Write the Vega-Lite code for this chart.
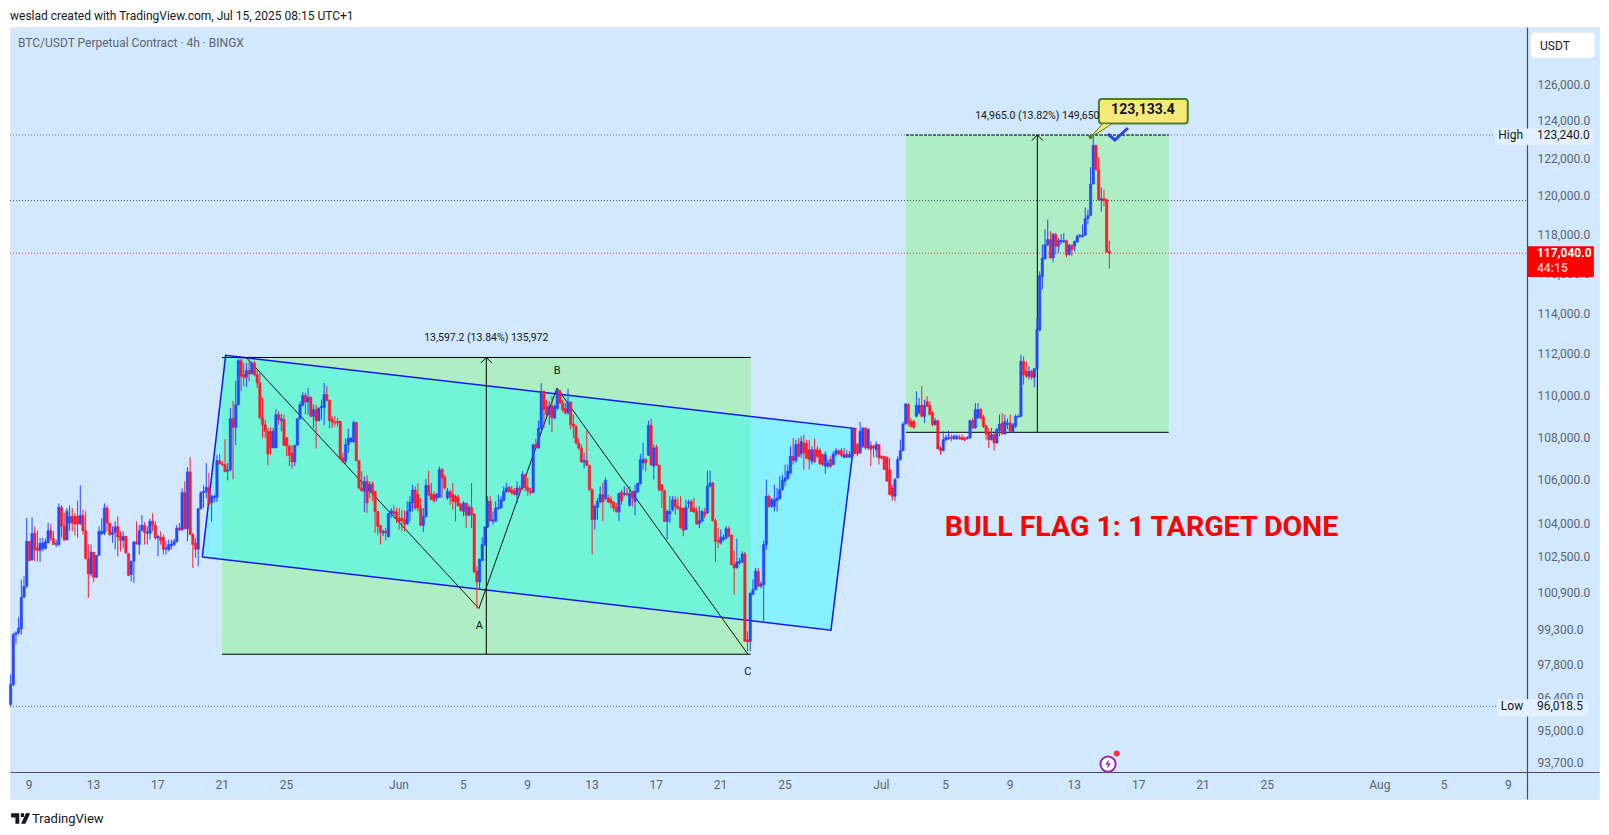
{"$schema":"https://vega.github.io/schema/vega-lite/v6.json","width":1589,"height":772,"autosize":"none","padding":{"left":10,"top":27,"right":10,"bottom":36},"background":"#ffffff","view":{"fill":"#d1e8ff","stroke":"#e4e8ee"},"config":{"text":{"font":"Roboto"},"axis":{"labelFont":"Roboto"}},
"datasets":{"c":[
{"t":"2025-05-07T21:00Z","o":96100,"h":97365,"l":96018,"c":96940},
{"t":"2025-05-08T01:00Z","o":96940,"h":99150,"l":96870,"c":99075},{"t":"2025-05-08T05:00Z","o":99075,"h":99220,"l":98670,"c":99150},{"t":"2025-05-08T09:00Z","o":99150,"h":99825,"l":99075,"c":99360},{"t":"2025-05-08T13:00Z","o":99330,"h":101485,"l":99075,"c":100700},{"t":"2025-05-08T17:00Z","o":100700,"h":101630,"l":100675,"c":101190},{"t":"2025-05-08T21:00Z","o":101190,"h":104250,"l":101115,"c":103200},
{"t":"2025-05-09T01:00Z","o":103200,"h":103200,"l":102300,"c":102330},{"t":"2025-05-09T05:00Z","o":102360,"h":104280,"l":102330,"c":103560},{"t":"2025-05-09T09:00Z","o":103560,"h":103875,"l":102300,"c":102825},{"t":"2025-05-09T13:00Z","o":102900,"h":103680,"l":102300,"c":102780},{"t":"2025-05-09T17:00Z","o":102780,"h":103350,"l":102270,"c":103110},{"t":"2025-05-09T21:00Z","o":102870,"h":103350,"l":102750,"c":103110},
{"t":"2025-05-10T01:00Z","o":102870,"h":103320,"l":102825,"c":103170},{"t":"2025-05-10T05:00Z","o":103125,"h":104025,"l":103125,"c":103680},{"t":"2025-05-10T09:00Z","o":103680,"h":103990,"l":103200,"c":103320},{"t":"2025-05-10T13:00Z","o":103320,"h":103650,"l":103050,"c":103050},{"t":"2025-05-10T17:00Z","o":103050,"h":103275,"l":102930,"c":103110},{"t":"2025-05-10T21:00Z","o":103050,"h":104925,"l":102975,"c":104740},
{"t":"2025-05-11T01:00Z","o":104740,"h":104835,"l":103380,"c":103890},{"t":"2025-05-11T05:00Z","o":103890,"h":104480,"l":103200,"c":103260},{"t":"2025-05-11T09:00Z","o":103260,"h":104710,"l":103260,"c":104555},{"t":"2025-05-11T13:00Z","o":104025,"h":104830,"l":103680,"c":104330},{"t":"2025-05-11T17:00Z","o":104330,"h":104710,"l":103650,"c":104025},{"t":"2025-05-11T21:00Z","o":104330,"h":104480,"l":103470,"c":103980},
{"t":"2025-05-12T01:00Z","o":104330,"h":105060,"l":103350,"c":103980},{"t":"2025-05-12T05:00Z","o":103980,"h":105755,"l":103950,"c":104375},{"t":"2025-05-12T09:00Z","o":104375,"h":104630,"l":103500,"c":103680},{"t":"2025-05-12T13:00Z","o":103680,"h":104555,"l":102375,"c":102420},{"t":"2025-05-12T17:00Z","o":102420,"h":103050,"l":100675,"c":101735},{"t":"2025-05-12T21:00Z","o":101735,"h":103050,"l":101635,"c":102705},
{"t":"2025-05-13T01:00Z","o":102705,"h":102705,"l":101380,"c":101590},{"t":"2025-05-13T05:00Z","o":101590,"h":102570,"l":101560,"c":102570},{"t":"2025-05-13T09:00Z","o":102570,"h":103875,"l":102525,"c":103650},{"t":"2025-05-13T13:00Z","o":103530,"h":104250,"l":103500,"c":103650},{"t":"2025-05-13T17:00Z","o":103560,"h":104925,"l":103470,"c":104710},{"t":"2025-05-13T21:00Z","o":104710,"h":104830,"l":103650,"c":104025},
{"t":"2025-05-14T01:00Z","o":104025,"h":104025,"l":103425,"c":103500},{"t":"2025-05-14T05:00Z","o":103500,"h":103875,"l":103125,"c":103605},{"t":"2025-05-14T09:00Z","o":103605,"h":104100,"l":102825,"c":103860},{"t":"2025-05-14T13:00Z","o":103860,"h":104330,"l":102525,"c":103380},{"t":"2025-05-14T17:00Z","o":103425,"h":103650,"l":102750,"c":103230},{"t":"2025-05-14T21:00Z","o":103230,"h":103650,"l":102900,"c":103425},
{"t":"2025-05-15T01:00Z","o":103425,"h":103425,"l":102630,"c":102675},{"t":"2025-05-15T05:00Z","o":102645,"h":102675,"l":101635,"c":101675},{"t":"2025-05-15T09:00Z","o":101705,"h":102330,"l":101410,"c":102300},{"t":"2025-05-15T13:00Z","o":102300,"h":103200,"l":101340,"c":103170},{"t":"2025-05-15T17:00Z","o":103170,"h":104100,"l":103050,"c":103080},{"t":"2025-05-15T21:00Z","o":103050,"h":103950,"l":102600,"c":103680},
{"t":"2025-05-16T01:00Z","o":103680,"h":104375,"l":103650,"c":103920},{"t":"2025-05-16T05:00Z","o":103920,"h":104070,"l":103050,"c":103590},{"t":"2025-05-16T09:00Z","o":103560,"h":103875,"l":103050,"c":103620},{"t":"2025-05-16T13:00Z","o":103560,"h":104220,"l":103275,"c":104100},{"t":"2025-05-16T17:00Z","o":104100,"h":104465,"l":103650,"c":103920},{"t":"2025-05-16T21:00Z","o":103920,"h":104100,"l":103275,"c":103350},
{"t":"2025-05-17T01:00Z","o":103350,"h":103500,"l":102525,"c":103425},{"t":"2025-05-17T05:00Z","o":103380,"h":103650,"l":103050,"c":103230},{"t":"2025-05-17T09:00Z","o":103380,"h":103500,"l":102600,"c":102840},{"t":"2025-05-17T13:00Z","o":102840,"h":103200,"l":102600,"c":102900},{"t":"2025-05-17T17:00Z","o":102825,"h":103275,"l":102750,"c":103050},{"t":"2025-05-17T21:00Z","o":102990,"h":103275,"l":102825,"c":103080},
{"t":"2025-05-18T01:00Z","o":103050,"h":103320,"l":102975,"c":103200},{"t":"2025-05-18T05:00Z","o":103170,"h":103920,"l":103140,"c":103800},{"t":"2025-05-18T09:00Z","o":103800,"h":104025,"l":103650,"c":103710},{"t":"2025-05-18T13:00Z","o":103710,"h":105600,"l":103680,"c":105415},{"t":"2025-05-18T17:00Z","o":105415,"h":105940,"l":103725,"c":103770},{"t":"2025-05-18T21:00Z","o":103770,"h":106590,"l":103200,"c":106375},
{"t":"2025-05-19T01:00Z","o":106375,"h":107055,"l":103470,"c":103500},{"t":"2025-05-19T05:00Z","o":103500,"h":103575,"l":102005,"c":103050},{"t":"2025-05-19T09:00Z","o":103110,"h":103350,"l":102450,"c":102840},{"t":"2025-05-19T13:00Z","o":102840,"h":104710,"l":102080,"c":104680},{"t":"2025-05-19T17:00Z","o":104680,"h":105475,"l":104630,"c":105415},{"t":"2025-05-19T21:00Z","o":105415,"h":105755,"l":104710,"c":105475},
{"t":"2025-05-20T01:00Z","o":105445,"h":106790,"l":105170,"c":105660},{"t":"2025-05-20T05:00Z","o":105660,"h":106330,"l":104860,"c":104860},{"t":"2025-05-20T09:00Z","o":104940,"h":105325,"l":104100,"c":105250},{"t":"2025-05-20T13:00Z","o":105170,"h":105325,"l":104970,"c":105250},{"t":"2025-05-20T17:00Z","o":105200,"h":107150,"l":104985,"c":106900},{"t":"2025-05-20T21:00Z","o":106900,"h":107210,"l":106715,"c":106745},
{"t":"2025-05-21T01:00Z","o":106745,"h":106870,"l":106640,"c":106715},{"t":"2025-05-21T05:00Z","o":106715,"h":107910,"l":106375,"c":106375},{"t":"2025-05-21T09:00Z","o":106405,"h":106790,"l":105985,"c":106470},{"t":"2025-05-21T13:00Z","o":106470,"h":109390,"l":106405,"c":108880},{"t":"2025-05-21T17:00Z","o":108880,"h":109735,"l":106035,"c":108465},{"t":"2025-05-21T21:00Z","o":108465,"h":110700,"l":107620,"c":109545},
{"t":"2025-05-22T01:00Z","o":109545,"h":111770,"l":109515,"c":111670},{"t":"2025-05-22T05:00Z","o":111670,"h":111800,"l":110190,"c":110910},{"t":"2025-05-22T09:00Z","o":110990,"h":111560,"l":110430,"c":110860},{"t":"2025-05-22T13:00Z","o":110860,"h":111560,"l":110380,"c":111190},{"t":"2025-05-22T17:00Z","o":111190,"h":111885,"l":110670,"c":111020},{"t":"2025-05-22T21:00Z","o":111020,"h":111640,"l":111070,"c":111560},
{"t":"2025-05-23T01:00Z","o":111560,"h":111670,"l":110910,"c":110990},{"t":"2025-05-23T05:00Z","o":110990,"h":111230,"l":110350,"c":110590},{"t":"2025-05-23T09:00Z","o":110590,"h":111070,"l":108830,"c":108940},{"t":"2025-05-23T13:00Z","o":108940,"h":109900,"l":107960,"c":108590},{"t":"2025-05-23T17:00Z","o":108590,"h":108830,"l":107960,"c":108280},{"t":"2025-05-23T21:00Z","o":108280,"h":108435,"l":106680,"c":107210},
{"t":"2025-05-24T01:00Z","o":108280,"h":108470,"l":107150,"c":107490},{"t":"2025-05-24T05:00Z","o":107490,"h":108435,"l":107490,"c":108280},{"t":"2025-05-24T09:00Z","o":107490,"h":109340,"l":107490,"c":109070},{"t":"2025-05-24T13:00Z","o":109070,"h":109230,"l":108590,"c":108830},{"t":"2025-05-24T17:00Z","o":108780,"h":109100,"l":108280,"c":108880},{"t":"2025-05-24T21:00Z","o":108830,"h":109070,"l":107600,"c":107620},
{"t":"2025-05-25T01:00Z","o":107990,"h":107990,"l":107100,"c":107570},{"t":"2025-05-25T05:00Z","o":107570,"h":107650,"l":106640,"c":107150},{"t":"2025-05-25T09:00Z","o":107260,"h":107620,"l":106530,"c":106840},{"t":"2025-05-25T13:00Z","o":106840,"h":107620,"l":106640,"c":107620},{"t":"2025-05-25T17:00Z","o":107620,"h":108880,"l":107600,"c":108880},{"t":"2025-05-25T21:00Z","o":108880,"h":109705,"l":108830,"c":109545},
{"t":"2025-05-26T01:00Z","o":109515,"h":110140,"l":109470,"c":109980},{"t":"2025-05-26T05:00Z","o":109980,"h":110110,"l":109070,"c":109670},{"t":"2025-05-26T09:00Z","o":109670,"h":110350,"l":109070,"c":109900},{"t":"2025-05-26T13:00Z","o":109900,"h":109950,"l":108945,"c":108990},{"t":"2025-05-26T17:00Z","o":108990,"h":109545,"l":108435,"c":109310},{"t":"2025-05-26T21:00Z","o":109310,"h":109545,"l":107460,"c":108780},
{"t":"2025-05-27T01:00Z","o":108780,"h":109390,"l":108750,"c":109390},{"t":"2025-05-27T05:00Z","o":109390,"h":109785,"l":108830,"c":109470},{"t":"2025-05-27T09:00Z","o":109420,"h":110590,"l":108560,"c":110030},{"t":"2025-05-27T13:00Z","o":110030,"h":110430,"l":109705,"c":109740},{"t":"2025-05-27T17:00Z","o":109740,"h":109790,"l":108435,"c":108780},{"t":"2025-05-27T21:00Z","o":108830,"h":108990,"l":108435,"c":108720},
{"t":"2025-05-28T01:00Z","o":108720,"h":108990,"l":108510,"c":108670},{"t":"2025-05-28T05:00Z","o":108750,"h":108910,"l":108510,"c":108680},{"t":"2025-05-28T09:00Z","o":108750,"h":108750,"l":106950,"c":106995},{"t":"2025-05-28T13:00Z","o":107025,"h":107260,"l":106790,"c":106840},{"t":"2025-05-28T17:00Z","o":106870,"h":107930,"l":106715,"c":107650},{"t":"2025-05-28T21:00Z","o":107650,"h":108405,"l":107260,"c":107930},
{"t":"2025-05-29T01:00Z","o":107775,"h":107990,"l":107775,"c":107960},{"t":"2025-05-29T05:00Z","o":107775,"h":108780,"l":107725,"c":108700},{"t":"2025-05-29T09:00Z","o":108700,"h":108700,"l":106870,"c":106900},{"t":"2025-05-29T13:00Z","o":106900,"h":106900,"l":105550,"c":105630},{"t":"2025-05-29T17:00Z","o":105630,"h":106405,"l":105475,"c":105505},{"t":"2025-05-29T21:00Z","o":105475,"h":106170,"l":104530,"c":105940},
{"t":"2025-05-30T01:00Z","o":105940,"h":106220,"l":104480,"c":104940},{"t":"2025-05-30T05:00Z","o":105475,"h":105940,"l":105170,"c":105785},{"t":"2025-05-30T09:00Z","o":105815,"h":105940,"l":105015,"c":105445},{"t":"2025-05-30T13:00Z","o":105475,"h":105475,"l":103575,"c":104555},{"t":"2025-05-30T17:00Z","o":104555,"h":104555,"l":103470,"c":103875},{"t":"2025-05-30T21:00Z","o":103920,"h":103920,"l":103050,"c":103605},
{"t":"2025-05-31T01:00Z","o":103575,"h":103725,"l":103425,"c":103650},{"t":"2025-05-31T05:00Z","o":103650,"h":103800,"l":103230,"c":103575},{"t":"2025-05-31T09:00Z","o":103395,"h":104480,"l":103380,"c":104450},{"t":"2025-05-31T13:00Z","o":104435,"h":104710,"l":104250,"c":104585},{"t":"2025-05-31T17:00Z","o":104555,"h":104830,"l":104250,"c":104465},{"t":"2025-05-31T21:00Z","o":104525,"h":104710,"l":104025,"c":104250},
{"t":"2025-06-01T01:00Z","o":104250,"h":104710,"l":103725,"c":104100},{"t":"2025-06-01T05:00Z","o":104250,"h":104630,"l":103650,"c":104130},{"t":"2025-06-01T09:00Z","o":104175,"h":104585,"l":103650,"c":103980},{"t":"2025-06-01T13:00Z","o":103980,"h":105015,"l":103950,"c":104555},{"t":"2025-06-01T17:00Z","o":104555,"h":105250,"l":104100,"c":104985},{"t":"2025-06-01T21:00Z","o":104955,"h":105785,"l":104555,"c":105535},
{"t":"2025-06-02T01:00Z","o":105535,"h":105710,"l":104630,"c":104710},{"t":"2025-06-02T05:00Z","o":105325,"h":105845,"l":104555,"c":104710},{"t":"2025-06-02T09:00Z","o":104710,"h":105170,"l":103875,"c":103920},{"t":"2025-06-02T13:00Z","o":103920,"h":104710,"l":103620,"c":104330},{"t":"2025-06-02T17:00Z","o":104315,"h":106065,"l":104280,"c":105755},{"t":"2025-06-02T21:00Z","o":105755,"h":106435,"l":105250,"c":105325},
{"t":"2025-06-03T01:00Z","o":105355,"h":105860,"l":105090,"c":105090},{"t":"2025-06-03T05:00Z","o":105325,"h":105475,"l":104940,"c":105045},{"t":"2025-06-03T09:00Z","o":105170,"h":105400,"l":105015,"c":105325},{"t":"2025-06-03T13:00Z","o":105200,"h":106620,"l":105170,"c":106480},{"t":"2025-06-03T17:00Z","o":106480,"h":106560,"l":105170,"c":106095},{"t":"2025-06-03T21:00Z","o":106125,"h":106250,"l":105550,"c":105630},
{"t":"2025-06-04T01:00Z","o":105170,"h":105630,"l":105090,"c":105475},{"t":"2025-06-04T05:00Z","o":105445,"h":105550,"l":104860,"c":105215},{"t":"2025-06-04T09:00Z","o":105325,"h":105860,"l":104630,"c":105015},{"t":"2025-06-04T13:00Z","o":105250,"h":105325,"l":104100,"c":104985},{"t":"2025-06-04T17:00Z","o":105215,"h":105325,"l":104785,"c":104800},{"t":"2025-06-04T21:00Z","o":104860,"h":104940,"l":104555,"c":104585},
{"t":"2025-06-05T01:00Z","o":104555,"h":105015,"l":104330,"c":104940},{"t":"2025-06-05T05:00Z","o":104940,"h":104940,"l":103800,"c":104375},{"t":"2025-06-05T09:00Z","o":104375,"h":104860,"l":104330,"c":104755},{"t":"2025-06-05T13:00Z","o":104740,"h":105860,"l":103800,"c":104405},{"t":"2025-06-05T17:00Z","o":104435,"h":104480,"l":101780,"c":101825},{"t":"2025-06-05T21:00Z","o":101855,"h":102075,"l":100205,"c":101380},
{"t":"2025-06-06T01:00Z","o":101380,"h":102420,"l":101040,"c":102390},{"t":"2025-06-06T05:00Z","o":102330,"h":103380,"l":102300,"c":103050},{"t":"2025-06-06T09:00Z","o":103050,"h":103875,"l":102975,"c":103845},{"t":"2025-06-06T13:00Z","o":103845,"h":105250,"l":103800,"c":105015},{"t":"2025-06-06T17:00Z","o":105015,"h":105250,"l":104100,"c":104130},{"t":"2025-06-06T21:00Z","o":104100,"h":104555,"l":103950,"c":104175},
{"t":"2025-06-07T01:00Z","o":104100,"h":105015,"l":104100,"c":104710},{"t":"2025-06-07T05:00Z","o":104680,"h":105325,"l":104630,"c":104740},{"t":"2025-06-07T09:00Z","o":104710,"h":105250,"l":104680,"c":105090},{"t":"2025-06-07T13:00Z","o":105045,"h":105710,"l":105015,"c":105475},{"t":"2025-06-07T17:00Z","o":105445,"h":105860,"l":105400,"c":105630},{"t":"2025-06-07T21:00Z","o":105660,"h":105710,"l":105400,"c":105475},
{"t":"2025-06-08T01:00Z","o":105550,"h":105710,"l":105325,"c":105400},{"t":"2025-06-08T05:00Z","o":105475,"h":105630,"l":105295,"c":105325},{"t":"2025-06-08T09:00Z","o":105325,"h":105940,"l":104940,"c":105630},{"t":"2025-06-08T13:00Z","o":105600,"h":105755,"l":105325,"c":105505},{"t":"2025-06-08T17:00Z","o":105630,"h":106405,"l":105550,"c":106250},{"t":"2025-06-08T21:00Z","o":106250,"h":106250,"l":105475,"c":105630},
{"t":"2025-06-09T01:00Z","o":105660,"h":106095,"l":105250,"c":105505},{"t":"2025-06-09T05:00Z","o":105505,"h":105630,"l":105325,"c":105415},{"t":"2025-06-09T09:00Z","o":105415,"h":107680,"l":105400,"c":107650},{"t":"2025-06-09T13:00Z","o":107650,"h":107930,"l":107460,"c":107490},{"t":"2025-06-09T17:00Z","o":107490,"h":108780,"l":107460,"c":108435},{"t":"2025-06-09T21:00Z","o":108405,"h":110590,"l":108360,"c":110190},
{"t":"2025-06-10T01:00Z","o":110190,"h":110220,"l":108435,"c":109310},{"t":"2025-06-10T05:00Z","o":109470,"h":109785,"l":108990,"c":109070},{"t":"2025-06-10T09:00Z","o":109070,"h":109705,"l":108590,"c":109470},{"t":"2025-06-10T13:00Z","o":109470,"h":109950,"l":108250,"c":108910},{"t":"2025-06-10T17:00Z","o":108910,"h":109545,"l":108830,"c":109470},{"t":"2025-06-10T21:00Z","o":109360,"h":110350,"l":109310,"c":110190},
{"t":"2025-06-11T01:00Z","o":110190,"h":110270,"l":109580,"c":109625},{"t":"2025-06-11T05:00Z","o":109625,"h":109785,"l":109185,"c":109310},{"t":"2025-06-11T09:00Z","o":109360,"h":109625,"l":109070,"c":109150},{"t":"2025-06-11T13:00Z","o":109150,"h":110320,"l":109070,"c":109670},{"t":"2025-06-11T17:00Z","o":109670,"h":109705,"l":108360,"c":108590},{"t":"2025-06-11T21:00Z","o":108625,"h":109070,"l":107960,"c":108510},
{"t":"2025-06-12T01:00Z","o":108510,"h":108590,"l":107650,"c":107725},{"t":"2025-06-12T05:00Z","o":107725,"h":107960,"l":107410,"c":107490},{"t":"2025-06-12T09:00Z","o":107490,"h":107650,"l":106790,"c":106840},{"t":"2025-06-12T13:00Z","o":106840,"h":107260,"l":106530,"c":106900},{"t":"2025-06-12T17:00Z","o":106900,"h":108310,"l":106640,"c":106685},{"t":"2025-06-12T21:00Z","o":106685,"h":106685,"l":105505,"c":105550},
{"t":"2025-06-13T01:00Z","o":105550,"h":105600,"l":102600,"c":104175},{"t":"2025-06-13T05:00Z","o":104175,"h":104860,"l":103725,"c":104785},{"t":"2025-06-13T09:00Z","o":104740,"h":105170,"l":104175,"c":105015},{"t":"2025-06-13T13:00Z","o":104985,"h":105710,"l":104940,"c":105325},{"t":"2025-06-13T17:00Z","o":105325,"h":105860,"l":104100,"c":104985},{"t":"2025-06-13T21:00Z","o":105140,"h":106095,"l":105090,"c":105985},
{"t":"2025-06-14T01:00Z","o":105170,"h":105325,"l":104940,"c":104985},{"t":"2025-06-14T05:00Z","o":105090,"h":105250,"l":104710,"c":104940},{"t":"2025-06-14T09:00Z","o":104985,"h":105015,"l":104555,"c":104710},{"t":"2025-06-14T13:00Z","o":104740,"h":104940,"l":104480,"c":104555},{"t":"2025-06-14T17:00Z","o":104525,"h":105430,"l":104100,"c":105370},{"t":"2025-06-14T21:00Z","o":105430,"h":105550,"l":104860,"c":105045},
{"t":"2025-06-15T01:00Z","o":105325,"h":105710,"l":105250,"c":105385},{"t":"2025-06-15T05:00Z","o":105385,"h":105630,"l":105250,"c":105325},{"t":"2025-06-15T09:00Z","o":104830,"h":105710,"l":104785,"c":105370},{"t":"2025-06-15T13:00Z","o":105475,"h":105505,"l":104785,"c":105170},{"t":"2025-06-15T17:00Z","o":105015,"h":105785,"l":104375,"c":105475},{"t":"2025-06-15T21:00Z","o":105445,"h":105860,"l":105400,"c":105860},
{"t":"2025-06-16T01:00Z","o":105815,"h":107210,"l":105785,"c":106950},{"t":"2025-06-16T05:00Z","o":106790,"h":107730,"l":106480,"c":106950},{"t":"2025-06-16T09:00Z","o":106950,"h":107025,"l":106405,"c":106790},{"t":"2025-06-16T13:00Z","o":107150,"h":108780,"l":107120,"c":108560},{"t":"2025-06-16T17:00Z","o":108560,"h":108880,"l":106685,"c":106685},{"t":"2025-06-16T21:00Z","o":106640,"h":107650,"l":106020,"c":107490},
{"t":"2025-06-17T01:00Z","o":107520,"h":107650,"l":106640,"c":106685},{"t":"2025-06-17T05:00Z","o":106685,"h":106715,"l":105475,"c":105550},{"t":"2025-06-17T09:00Z","o":105785,"h":105785,"l":104710,"c":105505},{"t":"2025-06-17T13:00Z","o":105505,"h":105550,"l":104070,"c":104100},{"t":"2025-06-17T17:00Z","o":104100,"h":104630,"l":103275,"c":104555},{"t":"2025-06-17T21:00Z","o":104435,"h":105250,"l":104025,"c":104555},
{"t":"2025-06-18T01:00Z","o":104630,"h":105250,"l":104555,"c":105090},{"t":"2025-06-18T05:00Z","o":105090,"h":105250,"l":104405,"c":104785},{"t":"2025-06-18T09:00Z","o":104785,"h":105200,"l":104630,"c":104680},{"t":"2025-06-18T13:00Z","o":104710,"h":105250,"l":103770,"c":103800},{"t":"2025-06-18T17:00Z","o":104710,"h":104710,"l":103425,"c":103695},{"t":"2025-06-18T21:00Z","o":103725,"h":105090,"l":103695,"c":104740},
{"t":"2025-06-19T01:00Z","o":104925,"h":105090,"l":104710,"c":104985},{"t":"2025-06-19T05:00Z","o":105015,"h":105090,"l":104525,"c":104555},{"t":"2025-06-19T09:00Z","o":104710,"h":105170,"l":104480,"c":104525},{"t":"2025-06-19T13:00Z","o":104555,"h":104740,"l":103950,"c":103980},{"t":"2025-06-19T17:00Z","o":103980,"h":104785,"l":103800,"c":104130},{"t":"2025-06-19T21:00Z","o":104100,"h":104630,"l":104070,"c":104555},
{"t":"2025-06-20T01:00Z","o":104525,"h":104710,"l":104250,"c":104375},{"t":"2025-06-20T05:00Z","o":104480,"h":106435,"l":104435,"c":105710},{"t":"2025-06-20T09:00Z","o":105710,"h":106435,"l":105660,"c":105860},{"t":"2025-06-20T13:00Z","o":105860,"h":105910,"l":104100,"c":104130},{"t":"2025-06-20T17:00Z","o":104130,"h":104220,"l":102270,"c":103200},{"t":"2025-06-20T21:00Z","o":103230,"h":103800,"l":102900,"c":103170},
{"t":"2025-06-21T01:00Z","o":103125,"h":103725,"l":103050,"c":103380},{"t":"2025-06-21T05:00Z","o":103275,"h":103500,"l":103200,"c":103380},{"t":"2025-06-21T09:00Z","o":103350,"h":103890,"l":103275,"c":103770},{"t":"2025-06-21T13:00Z","o":103770,"h":103875,"l":103380,"c":103425},{"t":"2025-06-21T17:00Z","o":103470,"h":103500,"l":102120,"c":102150},{"t":"2025-06-21T21:00Z","o":102150,"h":102780,"l":100820,"c":102005},
{"t":"2025-06-22T01:00Z","o":102005,"h":103320,"l":101975,"c":102270},{"t":"2025-06-22T05:00Z","o":102225,"h":102450,"l":102150,"c":102300},{"t":"2025-06-22T09:00Z","o":102270,"h":102750,"l":102225,"c":102630},{"t":"2025-06-22T13:00Z","o":102630,"h":102720,"l":98755,"c":98785},{"t":"2025-06-22T17:00Z","o":98860,"h":99220,"l":98360,"c":98755},{"t":"2025-06-22T21:00Z","o":98785,"h":100910,"l":98360,"c":100880},
{"t":"2025-06-23T01:00Z","o":100820,"h":101485,"l":100820,"c":101040},{"t":"2025-06-23T05:00Z","o":101040,"h":102005,"l":101000,"c":101855},{"t":"2025-06-23T09:00Z","o":101855,"h":102005,"l":101150,"c":101190},{"t":"2025-06-23T13:00Z","o":101190,"h":101410,"l":101090,"c":101295},{"t":"2025-06-23T17:00Z","o":101265,"h":103230,"l":99650,"c":103050},{"t":"2025-06-23T21:00Z","o":103050,"h":106020,"l":102825,"c":105250},
{"t":"2025-06-24T01:00Z","o":105250,"h":105325,"l":104710,"c":104785},{"t":"2025-06-24T05:00Z","o":104785,"h":105170,"l":104710,"c":105090},{"t":"2025-06-24T09:00Z","o":104785,"h":105785,"l":104555,"c":105090},{"t":"2025-06-24T13:00Z","o":105045,"h":105630,"l":104555,"c":105170},{"t":"2025-06-24T17:00Z","o":105140,"h":106170,"l":105090,"c":105550},{"t":"2025-06-24T21:00Z","o":105550,"h":106250,"l":105505,"c":105985},
{"t":"2025-06-25T01:00Z","o":105940,"h":106715,"l":105710,"c":106095},{"t":"2025-06-25T05:00Z","o":106065,"h":106715,"l":106020,"c":106405},{"t":"2025-06-25T09:00Z","o":106330,"h":107570,"l":106250,"c":107100},{"t":"2025-06-25T13:00Z","o":107100,"h":107960,"l":106715,"c":106900},{"t":"2025-06-25T17:00Z","o":106900,"h":107880,"l":106790,"c":107650},{"t":"2025-06-25T21:00Z","o":107680,"h":107960,"l":107050,"c":107100},
{"t":"2025-06-26T01:00Z","o":107210,"h":108040,"l":107025,"c":107805},{"t":"2025-06-26T05:00Z","o":107725,"h":108120,"l":106480,"c":107260},{"t":"2025-06-26T09:00Z","o":107725,"h":107880,"l":106950,"c":107025},{"t":"2025-06-26T13:00Z","o":107410,"h":107880,"l":106480,"c":106950},{"t":"2025-06-26T17:00Z","o":106870,"h":107570,"l":106715,"c":107410},{"t":"2025-06-26T21:00Z","o":107410,"h":107930,"l":106790,"c":106840},
{"t":"2025-06-27T01:00Z","o":107410,"h":107570,"l":107025,"c":107100},{"t":"2025-06-27T05:00Z","o":107365,"h":107490,"l":106715,"c":106745},{"t":"2025-06-27T09:00Z","o":107180,"h":107210,"l":106640,"c":106715},{"t":"2025-06-27T13:00Z","o":106640,"h":107335,"l":106280,"c":107180},{"t":"2025-06-27T17:00Z","o":106640,"h":106950,"l":106560,"c":106790},{"t":"2025-06-27T21:00Z","o":106950,"h":107100,"l":106560,"c":106640},
{"t":"2025-06-28T01:00Z","o":106715,"h":107335,"l":106685,"c":107210},{"t":"2025-06-28T05:00Z","o":107210,"h":107490,"l":107100,"c":107365},{"t":"2025-06-28T09:00Z","o":107365,"h":107410,"l":107150,"c":107210},{"t":"2025-06-28T13:00Z","o":107365,"h":107490,"l":107060,"c":107150},{"t":"2025-06-28T17:00Z","o":107055,"h":107490,"l":107025,"c":107180},{"t":"2025-06-28T21:00Z","o":107210,"h":107410,"l":107025,"c":107055},
{"t":"2025-06-29T01:00Z","o":107055,"h":107335,"l":107025,"c":107180},{"t":"2025-06-29T05:00Z","o":107100,"h":108435,"l":107055,"c":108405},{"t":"2025-06-29T09:00Z","o":108405,"h":108435,"l":107210,"c":107210},{"t":"2025-06-29T13:00Z","o":107650,"h":107725,"l":107100,"c":107210},{"t":"2025-06-29T17:00Z","o":107260,"h":108720,"l":107210,"c":108280},{"t":"2025-06-29T21:00Z","o":107570,"h":108465,"l":107490,"c":108435},
{"t":"2025-06-30T01:00Z","o":108435,"h":108465,"l":107410,"c":107490},{"t":"2025-06-30T05:00Z","o":107490,"h":108435,"l":107410,"c":108360},{"t":"2025-06-30T09:00Z","o":107620,"h":107805,"l":106640,"c":107410},{"t":"2025-06-30T13:00Z","o":107570,"h":107650,"l":107055,"c":107490},{"t":"2025-06-30T17:00Z","o":107410,"h":107805,"l":107055,"c":107650},{"t":"2025-06-30T21:00Z","o":107650,"h":107680,"l":106715,"c":107025},
{"t":"2025-07-01T01:00Z","o":107100,"h":107150,"l":106950,"c":107025},{"t":"2025-07-01T05:00Z","o":107100,"h":107100,"l":106480,"c":106480},{"t":"2025-07-01T09:00Z","o":107055,"h":107100,"l":105940,"c":105940},{"t":"2025-07-01T13:00Z","o":106480,"h":107025,"l":105295,"c":105325},{"t":"2025-07-01T17:00Z","o":105630,"h":105785,"l":105045,"c":105250},{"t":"2025-07-01T21:00Z","o":105250,"h":106095,"l":105015,"c":106020},
{"t":"2025-07-02T01:00Z","o":106095,"h":107100,"l":106065,"c":106950},{"t":"2025-07-02T05:00Z","o":106950,"h":107880,"l":106900,"c":107365},{"t":"2025-07-02T09:00Z","o":107365,"h":108720,"l":107335,"c":108620},{"t":"2025-07-02T13:00Z","o":108620,"h":109625,"l":108590,"c":109580},{"t":"2025-07-02T17:00Z","o":109545,"h":109625,"l":108510,"c":108670},{"t":"2025-07-02T21:00Z","o":108750,"h":108910,"l":108435,"c":108510},
{"t":"2025-07-03T01:00Z","o":108750,"h":108830,"l":108390,"c":108470},{"t":"2025-07-03T05:00Z","o":108990,"h":110190,"l":108940,"c":109515},{"t":"2025-07-03T09:00Z","o":109150,"h":109870,"l":109070,"c":109515},{"t":"2025-07-03T13:00Z","o":109515,"h":110430,"l":108940,"c":108990},{"t":"2025-07-03T17:00Z","o":108990,"h":109785,"l":108670,"c":109515},{"t":"2025-07-03T21:00Z","o":109705,"h":109950,"l":109420,"c":109470},
{"t":"2025-07-04T01:00Z","o":109515,"h":109705,"l":109040,"c":109070},{"t":"2025-07-04T05:00Z","o":109150,"h":109230,"l":108510,"c":108590},{"t":"2025-07-04T09:00Z","o":108590,"h":108910,"l":108560,"c":108780},{"t":"2025-07-04T13:00Z","o":108780,"h":108830,"l":107410,"c":107460},{"t":"2025-07-04T17:00Z","o":107490,"h":107570,"l":107180,"c":107365},{"t":"2025-07-04T21:00Z","o":107365,"h":108280,"l":107335,"c":107880},
{"t":"2025-07-05T01:00Z","o":107870,"h":108120,"l":107805,"c":107990},{"t":"2025-07-05T05:00Z","o":107930,"h":108310,"l":107880,"c":107990},{"t":"2025-07-05T09:00Z","o":107990,"h":108120,"l":107805,"c":107930},{"t":"2025-07-05T13:00Z","o":107930,"h":108120,"l":107880,"c":108040},{"t":"2025-07-05T17:00Z","o":107930,"h":108120,"l":107880,"c":108040},{"t":"2025-07-05T21:00Z","o":107990,"h":108120,"l":107880,"c":107930},
{"t":"2025-07-06T01:00Z","o":107990,"h":108120,"l":107880,"c":107880},{"t":"2025-07-06T05:00Z","o":107960,"h":108040,"l":107805,"c":107870},{"t":"2025-07-06T09:00Z","o":107930,"h":108040,"l":107880,"c":107990},{"t":"2025-07-06T13:00Z","o":107960,"h":108830,"l":107930,"c":108780},{"t":"2025-07-06T17:00Z","o":108780,"h":108910,"l":108390,"c":108435},{"t":"2025-07-06T21:00Z","o":108435,"h":109625,"l":108400,"c":109310},
{"t":"2025-07-07T01:00Z","o":108910,"h":109625,"l":108860,"c":109310},{"t":"2025-07-07T05:00Z","o":109310,"h":109390,"l":108830,"c":108910},{"t":"2025-07-07T09:00Z","o":108960,"h":109070,"l":108435,"c":108510},{"t":"2025-07-07T13:00Z","o":108540,"h":108590,"l":107880,"c":108150},{"t":"2025-07-07T17:00Z","o":108200,"h":108435,"l":107490,"c":107880},{"t":"2025-07-07T21:00Z","o":107880,"h":108435,"l":107840,"c":108120},
{"t":"2025-07-08T01:00Z","o":108120,"h":108200,"l":107365,"c":107725},{"t":"2025-07-08T05:00Z","o":107725,"h":108435,"l":107680,"c":108360},{"t":"2025-07-08T09:00Z","o":108310,"h":109070,"l":108040,"c":108620},{"t":"2025-07-08T13:00Z","o":108670,"h":109150,"l":108120,"c":108150},{"t":"2025-07-08T17:00Z","o":108150,"h":109070,"l":108120,"c":108750},{"t":"2025-07-08T21:00Z","o":108590,"h":108880,"l":108390,"c":108670},
{"t":"2025-07-09T01:00Z","o":108670,"h":109070,"l":108250,"c":108280},{"t":"2025-07-09T05:00Z","o":108250,"h":108670,"l":108200,"c":108590},{"t":"2025-07-09T09:00Z","o":108510,"h":109070,"l":108435,"c":108990},{"t":"2025-07-09T13:00Z","o":108950,"h":109070,"l":108910,"c":108990},{"t":"2025-07-09T17:00Z","o":108990,"h":111970,"l":108940,"c":111640},{"t":"2025-07-09T21:00Z","o":111640,"h":111885,"l":110510,"c":110990},
{"t":"2025-07-10T01:00Z","o":111150,"h":111640,"l":110830,"c":110910},{"t":"2025-07-10T05:00Z","o":110910,"h":111400,"l":110750,"c":111150},{"t":"2025-07-10T09:00Z","o":111150,"h":111230,"l":110750,"c":110860},{"t":"2025-07-10T13:00Z","o":110860,"h":111285,"l":110380,"c":111285},{"t":"2025-07-10T17:00Z","o":111285,"h":113780,"l":111240,"c":113195},{"t":"2025-07-10T21:00Z","o":113170,"h":116120,"l":113110,"c":115915},
{"t":"2025-07-11T01:00Z","o":115865,"h":117480,"l":115200,"c":116795},{"t":"2025-07-11T05:00Z","o":116760,"h":118255,"l":116710,"c":117480},{"t":"2025-07-11T09:00Z","o":117480,"h":118770,"l":117395,"c":117735},{"t":"2025-07-11T13:00Z","o":117735,"h":118165,"l":116760,"c":116795},{"t":"2025-07-11T17:00Z","o":116795,"h":118080,"l":116575,"c":118000},{"t":"2025-07-11T21:00Z","o":118000,"h":118080,"l":116965,"c":117395},
{"t":"2025-07-12T01:00Z","o":117395,"h":117820,"l":117050,"c":117685},{"t":"2025-07-12T05:00Z","o":117620,"h":118000,"l":117480,"c":117685},{"t":"2025-07-12T09:00Z","o":117620,"h":118080,"l":117565,"c":117685},{"t":"2025-07-12T13:00Z","o":117685,"h":117735,"l":116830,"c":116965},{"t":"2025-07-12T17:00Z","o":116965,"h":117515,"l":116930,"c":117445},{"t":"2025-07-12T21:00Z","o":117445,"h":117480,"l":116880,"c":117225},
{"t":"2025-07-13T01:00Z","o":117395,"h":117685,"l":117135,"c":117650},{"t":"2025-07-13T05:00Z","o":117615,"h":118000,"l":117565,"c":117905},{"t":"2025-07-13T09:00Z","o":117890,"h":118030,"l":117820,"c":117950},{"t":"2025-07-13T13:00Z","o":117900,"h":118510,"l":117820,"c":117965},{"t":"2025-07-13T17:00Z","o":117965,"h":119400,"l":117920,"c":118820},{"t":"2025-07-13T21:00Z","o":118820,"h":119280,"l":118510,"c":118975},
{"t":"2025-07-14T01:00Z","o":118990,"h":121520,"l":118940,"c":120630},{"t":"2025-07-14T05:00Z","o":120630,"h":123240,"l":120595,"c":122685},{"t":"2025-07-14T09:00Z","o":122685,"h":122720,"l":121335,"c":121385},{"t":"2025-07-14T13:00Z","o":121385,"h":122040,"l":119760,"c":119810},{"t":"2025-07-14T17:00Z","o":119790,"h":120455,"l":119180,"c":119860},{"t":"2025-07-14T21:00Z","o":119860,"h":120330,"l":119470,"c":119760},
{"t":"2025-07-15T01:00Z","o":119810,"h":119860,"l":117050,"c":117100},{"t":"2025-07-15T05:00Z","o":117135,"h":117685,"l":116250,"c":117040}
]},
"data":{"values":[{"t":"2025-05-08T00:00Z","p":100000}]},
"encoding":{
"x":{"field":"t","type":"temporal","scale":{"type":"utc","domain":[1746648316800,1755186624000],"padding":0},"axis":{"title":null,"orient":"bottom","offset":-27,"values":[1746748800000,1747094400000,1747440000000,1747785600000,1748131200000,1748736000000,1749081600000,1749427200000,1749772800000,1750118400000,1750464000000,1750809600000,1751328000000,1751673600000,1752019200000,1752364800000,1752710400000,1753056000000,1753401600000,1754006400000,1754352000000,1754697600000],"labelExpr":"utcdate(datum.value)==1?utcFormat(datum.value,'%b'):utcFormat(datum.value,'%-d')","ticks":false,"grid":false,"domainColor":"#474c57","domainWidth":1.2,"labelColor":"#5d6470","labelFontSize":12,"labelPadding":7,"labelFlush":false,"labelOverlap":false}},
"y":{"field":"p","type":"quantitative","scale":{"type":"log","domain":[92210,129194],"nice":false,"zero":false},"axis":{"title":null,"orient":"right","offset":-72,"values":[126000,124000,122000,120000,118000,116000,114000,112000,110000,108000,106000,104000,102500,100900,99300,97800,96400,95000,93700],"format":",.1f","ticks":false,"grid":false,"domainColor":"#474c57","domainWidth":1.2,"labelColor":"#5d6470","labelFontSize":12,"labelPadding":10,"labelOverlap":false,"labelFlush":false}}},
"layer":[
{"data":{"values":[{"t":"2025-05-21T00:30Z","t2":"2025-06-22T21:40Z","p":111827,"p2":98230},{"t":"2025-07-02T13:30Z","t2":"2025-07-18T21:40Z","p":123240,"p2":108230}]},"mark":{"type":"rect","fill":"#aeeec4"},"encoding":{"x2":{"field":"t2"},"y2":{"field":"p2"}}},
{"data":{"values":[{"t":"2025-05-19T19:06Z","p":102493,"p2":102493},{"t":"2025-05-21T06:00Z","p":111930,"p2":102372},{"t":"2025-06-27T21:27Z","p":108540,"p2":99269},{"t":"2025-06-29T10:19Z","p":108405,"p2":108405}]},"mark":{"type":"area","fill":"#00feff","opacity":0.35,"interpolate":"linear"},"encoding":{"y2":{"field":"p2"}}},
{"data":{"values":[{"i":1,"t":"2025-05-19T19:06Z","p":102493},{"i":2,"t":"2025-05-21T06:00Z","p":111930},{"i":3,"t":"2025-06-29T10:19Z","p":108405},{"i":4,"t":"2025-06-27T21:27Z","p":99269},{"i":5,"t":"2025-05-19T19:06Z","p":102493}]},"mark":{"type":"line","stroke":"#1717e8","strokeWidth":1.5},"encoding":{"order":{"field":"i"}}},
{"data":{"values":[{"t":"2025-05-07T20:05Z","t2":"2025-08-10T04:20Z","p":123240},{"t":"2025-05-07T20:05Z","t2":"2025-08-10T04:20Z","p":96018.5}]},"mark":{"type":"rule","stroke":"#6e7380","strokeWidth":1,"strokeDash":[1,2]},"encoding":{"x2":{"field":"t2"}}},
{"data":{"values":[{"t":"2025-05-07T20:05Z","t2":"2025-08-10T04:20Z","p":119758}]},"mark":{"type":"rule","stroke":"#3c4350","strokeWidth":1,"strokeDash":[1,2]},"encoding":{"x2":{"field":"t2"}}},
{"data":{"values":[{"t":"2025-05-07T20:05Z","t2":"2025-08-10T04:20Z","p":117040}]},"mark":{"type":"rule","stroke":"#f23645","strokeWidth":1,"strokeDash":[1,2]},"encoding":{"x2":{"field":"t2"}}},
{"data":{"values":[{"t":"2025-05-21T00:30Z","t2":"2025-06-22T21:40Z","p":111827},{"t":"2025-05-21T00:30Z","t2":"2025-06-22T21:40Z","p":98230},{"t":"2025-07-02T13:30Z","t2":"2025-07-18T21:40Z","p":108230}]},"mark":{"type":"rule","stroke":"#000000","strokeWidth":1},"encoding":{"x2":{"field":"t2"}}},
{"data":{"values":[{"t":"2025-07-02T13:30Z","t2":"2025-07-18T21:40Z","p":123240}]},"mark":{"type":"rule","stroke":"#000000","strokeWidth":1,"strokeDash":[3,1.5]},"encoding":{"x2":{"field":"t2"}}},
{"data":{"values":[{"t":"2025-06-06T11:00Z","p":98230,"p2":111827},{"t":"2025-07-10T17:30Z","p":108230,"p2":123240}]},"mark":{"type":"rule","stroke":"#000000","strokeWidth":1},"encoding":{"y2":{"field":"p2"}}},
{"data":{"values":[{"t":"2025-06-06T11:00Z","p":111827},{"t":"2025-07-10T17:30Z","p":123240}]},"mark":{"type":"point","shape":"M-1,1L0,0L1,1","size":121,"stroke":"#000000","strokeWidth":1,"filled":false,"opacity":1}},
{"data":{"values":[{"i":1,"t":"2025-05-22T13:25Z","p":111800},{"i":2,"t":"2025-06-06T00:00Z","p":100210},{"i":3,"t":"2025-06-10T20:25Z","p":110345},{"i":4,"t":"2025-06-22T17:30Z","p":98230}]},"mark":{"type":"line","stroke":"#111111","strokeWidth":1},"encoding":{"order":{"field":"i"}}},
{"data":{"name":"c"},"mark":{"type":"rule","strokeWidth":1},"encoding":{"y":{"field":"l","type":"quantitative","scale":{"type":"log","domain":[92210,129194],"nice":false,"zero":false},"axis":{"title":null,"orient":"right","offset":-72,"values":[126000,124000,122000,120000,118000,116000,114000,112000,110000,108000,106000,104000,102500,100900,99300,97800,96400,95000,93700],"format":",.1f","ticks":false,"grid":false,"domainColor":"#474c57","domainWidth":1.2,"labelColor":"#5d6470","labelFontSize":12,"labelPadding":10,"labelOverlap":false,"labelFlush":false}},"y2":{"field":"h"},"color":{"condition":{"test":"datum.c>=datum.o","value":"#2547ff"},"value":"#ff1a2e"}}},
{"data":{"name":"c"},"mark":{"type":"bar","size":2.4,"strokeWidth":0.5},"encoding":{"y":{"field":"o","type":"quantitative","scale":{"type":"log","domain":[92210,129194],"nice":false,"zero":false},"axis":{"title":null,"orient":"right","offset":-72,"values":[126000,124000,122000,120000,118000,116000,114000,112000,110000,108000,106000,104000,102500,100900,99300,97800,96400,95000,93700],"format":",.1f","ticks":false,"grid":false,"domainColor":"#474c57","domainWidth":1.2,"labelColor":"#5d6470","labelFontSize":12,"labelPadding":10,"labelOverlap":false,"labelFlush":false}},"y2":{"field":"c"},"color":{"condition":{"test":"datum.c>=datum.o","value":"#2547ff"},"value":"#ff1a2e"},"stroke":{"condition":{"test":"datum.c>=datum.o","value":"#2547ff"},"value":"#ff1a2e"}}},
{"data":{"values":[{"t":"2025-07-14T13:25Z","t2":"2025-07-20T02:00Z","p":125193,"p2":123855}]},"mark":{"type":"rect","fill":"#f5e97a","stroke":"#4c7d2c","strokeWidth":2,"cornerRadius":3},"encoding":{"x2":{"field":"t2"},"y2":{"field":"p2"}}},
{"data":{"values":[{"t":"2025-07-14T01:00Z","p":123133,"p2":123133},{"t":"2025-07-14T19:25Z","p":123855,"p2":123525},{"t":"2025-07-15T08:50Z","p":123855,"p2":123855}]},"mark":{"type":"area","fill":"#f5e97a","stroke":"#4c7d2c","strokeWidth":1,"interpolate":"linear"},"encoding":{"y2":{"field":"p2"}}},
{"data":{"values":[{"t":"2025-07-14T01:00Z","p":123133}]},"mark":{"type":"point","filled":true,"fill":"#4c7d2c","size":18,"opacity":1}},
{"data":{"values":[{"t":"2025-07-15T17:45Z","p":123294}]},"mark":{"type":"point","shape":"M-1,0L-.3,.6L1,-.6","size":400,"filled":false,"stroke":"#2a45e8","strokeWidth":3,"opacity":1}},
{"data":{"values":[{"t":"2025-07-15T03:00Z","p":93627}]},"mark":{"type":"point","shape":"circle","size":230,"filled":true,"fill":"#ffffff","stroke":"#9c27b0","strokeWidth":2,"opacity":1}},
{"data":{"values":[{"t":"2025-07-15T03:00Z","p":93627}]},"mark":{"type":"point","shape":"M.2,-1L-.6,.15H-.05L-.2,1L.6,-.15H.05Z","size":90,"filled":true,"fill":"#9c27b0","opacity":1}},
{"data":{"values":[{"t":"2025-07-15T16:00Z","p":94066}]},"mark":{"type":"point","shape":"circle","size":36,"filled":true,"fill":"#f23645","opacity":1}},
{"data":{"values":[{"t":"2025-05-08T12:00Z","p":91430}]},"mark":{"type":"point","shape":"M-1,-.55H-.15V.55H-.55V-.1H-1Z M.02,-.55H.35V-.15H.02Z M.55,-.55H1L.5,.55H.05Z","size":361,"filled":true,"fill":"#131722","opacity":1}},
{"data":{"values":[{"t":"2025-08-08T04:30Z","t2":"2025-08-14T08:10Z","p":123585,"p2":122685},{"t":"2025-08-08T07:30Z","t2":"2025-08-13T23:20Z","p":96316,"p2":95598}]},"mark":{"type":"rect","fill":"#e4f0fe","cornerRadius":2},"encoding":{"x2":{"field":"t2"},"y2":{"field":"p2"}}},
{"data":{"values":[{"t":"2025-08-10T05:20Z","t2":"2025-08-14T08:10Z","p":117392,"p2":115827}]},"mark":{"type":"rect","fill":"#ff0000","cornerRadius":1},"encoding":{"x2":{"field":"t2"},"y2":{"field":"p2"}}},
{"data":{"values":[{"t":"2025-08-10T10:05Z","t2":"2025-08-14T09:40Z","p":128895,"p2":127456}]},"mark":{"type":"rect","fill":"#ffffff","stroke":"#e6edf5","cornerRadius":4},"encoding":{"x2":{"field":"t2"},"y2":{"field":"p2"}}},
{"data":{"values":[{"t":"2025-08-10T19:10Z","p":123240,"s":"123,240.0"},{"t":"2025-08-10T19:10Z","p":96018.5,"s":"96,018.5"},{"t":"2025-08-10T23:50Z","p":128125,"s":"USDT"}]},"mark":{"type":"text","align":"left","baseline":"middle","fontSize":12,"fill":"#131722"},"encoding":{"text":{"field":"s"}}},
{"data":{"values":[{"t":"2025-08-09T04:00Z","p":123240,"s":"High"},{"t":"2025-08-09T06:00Z","p":96018.5,"s":"Low"}]},"mark":{"type":"text","align":"center","baseline":"middle","fontSize":12,"fill":"#131722"},"encoding":{"text":{"field":"s"}}},
{"data":{"values":[{"t":"2025-08-10T19:10Z","p":117040,"s":"117,040.0"}]},"mark":{"type":"text","align":"left","baseline":"middle","fontSize":12,"fontWeight":"bold","fill":"#ffffff"},"encoding":{"text":{"field":"s"}}},
{"data":{"values":[{"t":"2025-08-10T19:10Z","p":116284,"s":"44:15"}]},"mark":{"type":"text","align":"left","baseline":"middle","fontSize":12,"fontWeight":"bold","fill":"#ffb3b3"},"encoding":{"text":{"field":"s"}}},
{"data":{"values":[{"t":"2025-05-08T08:00Z","p":128295,"s":"BTC/USDT Perpetual Contract · 4h · BINGX"}]},"mark":{"type":"text","align":"left","baseline":"middle","fontSize":12,"fill":"#5d6470"},"encoding":{"text":{"field":"s"}}},
{"data":{"values":[{"t":"2025-05-07T20:05Z","p":129800,"s":"weslad created with TradingView.com, Jul 15, 2025 08:15 UTC+1"}]},"mark":{"type":"text","align":"left","baseline":"middle","fontSize":12,"fill":"#131722"},"encoding":{"text":{"field":"s"}}},
{"data":{"values":[{"t":"2025-05-09T05:00Z","p":91394,"s":"TradingView"}]},"mark":{"type":"text","align":"left","baseline":"middle","fontSize":13,"fill":"#131722"},"encoding":{"text":{"field":"s"}}},
{"data":{"values":[{"t":"2025-06-06T11:00Z","p":112780,"s":"13,597.2 (13.84%) 135,972"},{"t":"2025-07-10T17:30Z","p":124290,"s":"14,965.0 (13.82%) 149,650"}]},"mark":{"type":"text","align":"center","baseline":"middle","fontSize":10.5,"fill":"#131722"},"encoding":{"text":{"field":"s"}}},
{"data":{"values":[{"t":"2025-06-06T00:30Z","p":99430,"s":"A"},{"t":"2025-06-10T20:50Z","p":111155,"s":"B"},{"t":"2025-06-22T17:30Z","p":97460,"s":"C"}]},"mark":{"type":"text","align":"center","baseline":"middle","fontSize":11,"fill":"#131722"},"encoding":{"text":{"field":"s"}}},
{"data":{"values":[{"t":"2025-07-17T07:10Z","p":124577,"s":"123,133.4"}]},"mark":{"type":"text","align":"center","baseline":"middle","fontSize":14,"fontWeight":"bold","fill":"#131722"},"encoding":{"text":{"field":"s"}}},
{"data":{"values":[{"t":"2025-07-17T05:00Z","p":103850,"s":"BULL FLAG 1: 1 TARGET DONE"}]},"mark":{"type":"text","align":"center","baseline":"middle","fontSize":28.5,"fontWeight":"bold","fill":"#ff0000"},"encoding":{"text":{"field":"s"}}}
]}
